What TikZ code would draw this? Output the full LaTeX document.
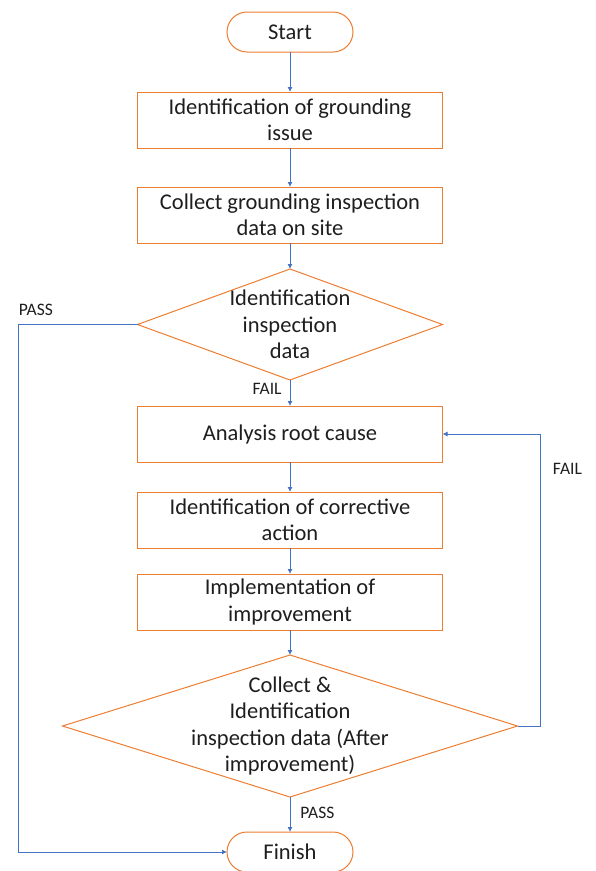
\documentclass[tikz,border=0pt]{standalone}
\usepackage{fontspec}
\setmainfont{Carlito}
\usetikzlibrary{positioning,shapes.geometric,arrows.meta}
\definecolor{boxorange}{HTML}{ED7D31}
\definecolor{flowblue}{HTML}{4472C4}
\definecolor{inktext}{HTML}{1E1E1E}

\begin{document}
\begin{tikzpicture}[
		x=1pt, y=1pt,
		font=\fontsize{22.5}{26.5}\selectfont, text=inktext,
		term/.style={draw=boxorange, line width=1pt, rounded corners=20pt, minimum width=126pt, minimum height=40pt, inner sep=0pt, outer sep=0pt},
		proc/.style={draw=boxorange, line width=1pt, minimum width=305pt, minimum height=56pt, inner sep=0pt, outer sep=0pt, align=center},
		decide/.style={draw=boxorange, line width=1pt, diamond, inner sep=0pt, outer sep=0pt},
		dtext/.style={align=center, inner sep=0pt},
		flow/.style={draw=flowblue, line width=0.9pt, -{Latex[length=5pt,width=5pt]}},
		lbl/.style={font=\fontsize{17.5}{19}\selectfont, inner sep=1pt},
	]
		\useasboundingbox (0,0) rectangle (595,-871);

		\node (start) [term] at (290,-32) {Start};
		\node (idf) [proc, below=40pt of start] {Identification of grounding\\issue};
		\node (collect) [proc, below=39pt of idf] {Collect grounding inspection\\data on site};
		\node (chk1) [decide, minimum width=305pt, minimum height=111pt, below=26pt of collect] {};
		\node (chk1txt) [dtext] at (chk1) {Identification\\inspection\\data};
		\node (cause) [proc, below=26pt of chk1] {Analysis root cause};
		\node (corr) [proc, below=30pt of cause] {Identification of corrective\\action};
		\node (impl) [proc, below=26pt of corr] {Implementation of\\improvement};
		\node (chk2) [decide, minimum width=455pt, minimum height=142pt, below=25pt of impl] {};
		\node (chk2txt) [dtext] at (chk2) {Collect \&\\Identification\\inspection data (After\\improvement)};
		\node (finish) [term, below=35pt of chk2] {Finish};

		\coordinate (passL) at ([xshift=-119pt]chk1.west);
		\coordinate (failR) at ([xshift=23pt]chk2.east);

		\draw[flow] (start) -- (idf);
		\draw[flow] (idf) -- (collect);
		\draw[flow] (collect) -- (chk1.north);
		\draw[flow] (chk1.south) -- (cause) node[lbl, pos=0.35, left=7pt]{FAIL};
		\draw[flow] (cause) -- (corr);
		\draw[flow] (corr) -- (impl);
		\draw[flow] (impl) -- (chk2.north);
		\draw[flow] (chk2.south) -- (finish) node[lbl, pos=0.45, right=9pt]{PASS};

		\draw[flow] (chk1.west) -- (passL) node[lbl, anchor=south west, xshift=-1pt, yshift=7pt]{PASS} |- (finish.west);
		\draw[flow] (chk2.east) -- (failR) |- (cause.east) node[lbl, pos=0.44, right=11pt]{FAIL};
	\end{tikzpicture}
\end{document}
